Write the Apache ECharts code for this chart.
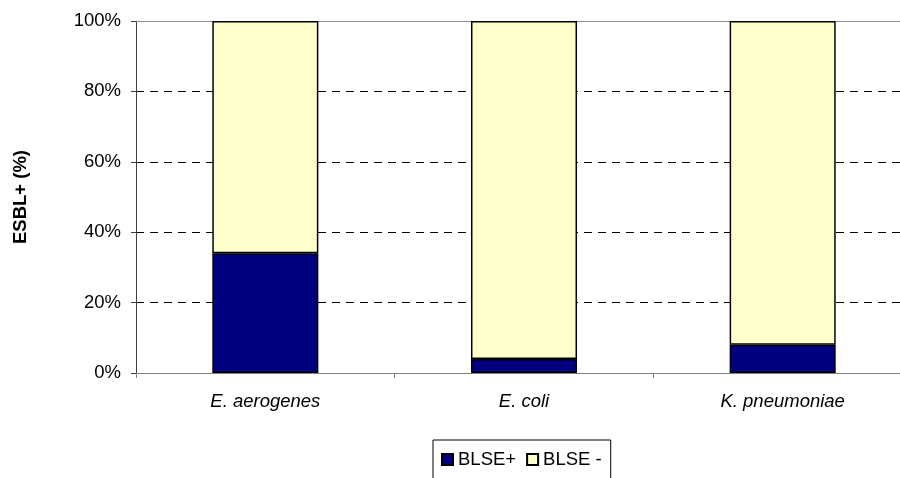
<!DOCTYPE html>
<html>
<head>
<meta charset="utf-8">
<script src="https://cdn.jsdelivr.net/npm/echarts@6/dist/echarts.min.js"></script>
<style>
  html, body { margin: 0; padding: 0; background: #fff; overflow: hidden; width: 900px; height: 478px; }
  /* the plot area runs a little past the right edge of the page */
  #chart { width: 912px; height: 478px; }
</style>
</head>
<body>
<div id="chart"></div>
<script>
// Share of ESBL-producing isolates per species (stacked to 100%)
const categories = ['E. aerogenes', 'E. coli', 'K. pneumoniae'];
const blsePos = [34, 4, 8];
const blseNeg = [66, 96, 92];
const seriesNames = ['BLSE+', 'BLSE -'];

const FONT = 'Liberation Sans, Arial, sans-serif';
const FS = 18.5;

const chart = echarts.init(document.getElementById('chart'), null, { renderer: 'canvas' });

chart.setOption({
  animation: false,
  backgroundColor: '#ffffff',
  grid: { left: 136, top: 21, right: 0, bottom: 105, containLabel: false },
  legend: {
    data: seriesNames,
    left: 433,
    top: 440,
    orient: 'horizontal',
    itemWidth: 11,
    itemHeight: 11,
    itemGap: 10,
    padding: [10, 9, 10, 8],
    borderColor: '#000',
    borderWidth: 1,
    icon: 'rect',
    textStyle: { fontFamily: FONT, fontSize: FS, color: '#000' }
  },
  xAxis: [
    {
      type: 'category',
      data: categories,
      axisLine: { show: true, lineStyle: { color: '#808080', width: 1 } },
      axisTick: { show: true, length: 5, lineStyle: { color: '#808080' } },
      axisLabel: {
        fontFamily: FONT, fontSize: FS, fontStyle: 'italic', color: '#000', margin: 19
      },
      splitLine: { show: false }
    },
    {
      // top edge of the plot area
      type: 'category',
      position: 'top',
      data: categories,
      axisLine: { show: true, lineStyle: { color: '#909090', width: 1 } },
      axisTick: { show: false },
      axisLabel: { show: false },
      splitLine: { show: false }
    }
  ],
  yAxis: {
    type: 'value',
    min: 0,
    max: 100,
    interval: 20,
    name: 'ESBL+ (%)',
    nameLocation: 'middle',
    nameGap: 106,
    nameTextStyle: { fontFamily: FONT, fontSize: FS, fontWeight: 'bold', color: '#000' },
    axisLine: { show: true, lineStyle: { color: '#404040', width: 1 } },
    axisTick: { show: true, length: 5, lineStyle: { color: '#404040' } },
    axisLabel: {
      formatter: '{value}%', fontFamily: FONT, fontSize: FS, color: '#000', margin: 15
    },
    splitLine: { show: true, lineStyle: { color: '#000', width: 1, type: [8, 6] } }
  },
  series: [
    {
      name: seriesNames[0],
      type: 'bar',
      stack: 'total',
      data: blsePos,
      barWidth: '41%',
      itemStyle: { color: '#000080', borderColor: '#000', borderWidth: 1.5 }
    },
    {
      name: seriesNames[1],
      type: 'bar',
      stack: 'total',
      data: blseNeg,
      barWidth: '41%',
      itemStyle: { color: '#FFFFCC', borderColor: '#000', borderWidth: 1.5 }
    }
  ]
});
</script>
</body>
</html>
